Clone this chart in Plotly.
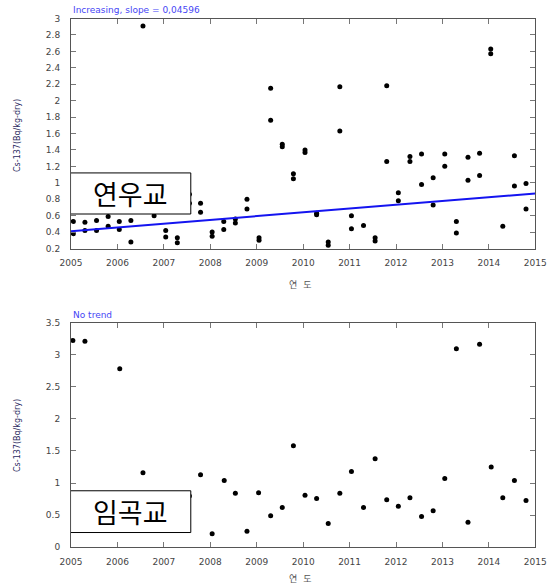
import plotly.graph_objects as go

# ---- data: 연우교 (top) ----
top_year = [2005.05, 2005.05, 2005.30, 2005.30, 2005.55, 2005.55, 2005.80, 2005.80,
            2006.04, 2006.04, 2006.29, 2006.29, 2006.55, 2006.79,
            2007.04, 2007.04, 2007.29, 2007.29, 2007.55, 2007.55, 2007.79, 2007.79,
            2008.04, 2008.04, 2008.29, 2008.29, 2008.54, 2008.54, 2008.79, 2008.79,
            2009.05, 2009.05, 2009.30, 2009.30, 2009.55, 2009.55, 2009.79, 2009.79,
            2010.04, 2010.04, 2010.29, 2010.29, 2010.54, 2010.54, 2010.79, 2010.79,
            2011.04, 2011.04, 2011.30, 2011.55, 2011.55, 2011.80, 2011.80,
            2012.05, 2012.05, 2012.30, 2012.30, 2012.55, 2012.55, 2012.80, 2012.80,
            2013.05, 2013.05, 2013.30, 2013.30, 2013.55, 2013.55, 2013.80, 2013.80,
            2014.04, 2014.04, 2014.30, 2014.55, 2014.55, 2014.80, 2014.80]
top_val = [0.53, 0.38, 0.52, 0.42, 0.54, 0.42, 0.59, 0.47,
           0.53, 0.43, 0.54, 0.28, 2.91, 0.60,
           0.42, 0.34, 0.33, 0.27, 0.86, 0.75, 0.75, 0.64,
           0.40, 0.35, 0.53, 0.43, 0.56, 0.51, 0.80, 0.68,
           0.33, 0.30, 2.15, 1.76, 1.47, 1.44, 1.11, 1.05,
           1.40, 1.37, 0.63, 0.61, 0.28, 0.24, 2.17, 1.63,
           0.60, 0.44, 0.48, 0.33, 0.29, 2.18, 1.26,
           0.88, 0.78, 1.32, 1.26, 1.35, 0.98, 1.06, 0.73,
           1.35, 1.20, 0.53, 0.39, 1.31, 1.03, 1.36, 1.09,
           2.63, 2.57, 0.47, 1.33, 0.96, 0.99, 0.68]
trend_start_year = 2005
trend_end_year = 2015
trend_intercept = 0.41
trend_slope = 0.04596

# ---- data: 임곡교 (bottom) ----
bot_year = [2005.04, 2005.30, 2006.05, 2006.55, 2007.55, 2007.79, 2008.04, 2008.30,
            2008.54, 2008.79, 2009.04, 2009.30, 2009.55, 2009.79, 2010.04, 2010.29,
            2010.54, 2010.79, 2011.04, 2011.30, 2011.55, 2011.80, 2012.05, 2012.30,
            2012.55, 2012.80, 2013.05, 2013.30, 2013.55, 2013.80, 2014.05, 2014.30,
            2014.55, 2014.80]
bot_val = [3.22, 3.21, 2.78, 1.16, 0.80, 1.13, 0.21, 1.04,
           0.84, 0.25, 0.85, 0.49, 0.62, 1.58, 0.81, 0.76,
           0.37, 0.84, 1.18, 0.62, 1.38, 0.74, 0.64, 0.77,
           0.48, 0.57, 1.07, 3.09, 0.39, 3.16, 1.25, 0.77,
           1.04, 0.73]

year_ticks = [2005, 2006, 2007, 2008, 2009, 2010, 2011, 2012, 2013, 2014, 2015]
top_yticks = [0.2, 0.4, 0.6, 0.8, 1, 1.2, 1.4, 1.6, 1.8, 2, 2.2, 2.4, 2.6, 2.8, 3]
bot_yticks = [0, 0.5, 1, 1.5, 2, 2.5, 3, 3.5]

top_title = "Increasing, slope = 0,04596"
bot_title = "No trend"
top_site = "연우교"
bot_site = "임곡교"
y_label = "Cs-137(Bq/kg-dry)"
x_label = "연 도"

W, H = 555, 586
FONT = "DejaVu Sans"
TICKC = "#444444"

fig = go.Figure()
fig.add_trace(go.Scatter(x=top_year, y=top_val, mode="markers",
                         marker=dict(color="black", size=5), xaxis="x", yaxis="y",
                         showlegend=False))
trend_x = [trend_start_year, trend_end_year]
trend_y = [trend_intercept + trend_slope * (v - trend_start_year) for v in trend_x]
fig.add_trace(go.Scatter(x=trend_x, y=trend_y, mode="lines",
                         line=dict(color="#1414f0", width=2), xaxis="x", yaxis="y",
                         showlegend=False))
fig.add_trace(go.Scatter(x=bot_year, y=bot_val, mode="markers",
                         marker=dict(color="black", size=5), xaxis="x2", yaxis="y2",
                         showlegend=False))

def px_x(p):
    return p / W

def px_y(p):
    return 1 - p / H

common_x = dict(range=[2005, 2015], tickvals=year_ticks, ticktext=[str(t) for t in year_ticks],
                ticks="inside", ticklen=5, tickcolor="#777777", showline=True,
                linecolor="#555555", linewidth=1, mirror="ticks", showgrid=False,
                zeroline=False, tickfont=dict(family=FONT, size=9, color=TICKC),
                ticklabelstandoff=6, automargin=False)
common_y = dict(ticks="inside", ticklen=5, tickcolor="#777777", showline=True,
                linecolor="#555555", linewidth=1, mirror="ticks", showgrid=False,
                zeroline=False, tickfont=dict(family=FONT, size=9, color=TICKC),
                ticklabelstandoff=8, automargin=False)

dom_x = [px_x(71), px_x(535.3)]
fig.update_layout(
    template="none",
    width=W, height=H, margin=dict(l=0, r=0, t=0, b=0, autoexpand=False),
    paper_bgcolor="white", plot_bgcolor="white",
    xaxis=dict(domain=dom_x, anchor="y", **common_x),
    yaxis=dict(domain=[px_y(248.5), px_y(18.5)], anchor="x", range=[0.2, 3],
               tickvals=top_yticks, ticktext=[f"{v:g}" for v in top_yticks], **common_y),
    xaxis2=dict(domain=dom_x, anchor="y2", **common_x),
    yaxis2=dict(domain=[px_y(547.3), px_y(322.5)], anchor="x2", range=[0, 3.5],
                tickvals=bot_yticks, ticktext=[f"{v:g}" for v in bot_yticks], **common_y),
)

# site label boxes (cover the data beneath, as in the original)
fig.add_shape(type="rect", xref="x", yref="y", x0=2004.99, x1=2007.58, y0=0.62, y1=1.12,
              line=dict(color="black", width=1), fillcolor="white", layer="above")
fig.add_shape(type="rect", xref="x2", yref="y2", x0=2004.99, x1=2007.58, y0=0.23, y1=0.88,
              line=dict(color="black", width=1), fillcolor="white", layer="above")

ann = []
ann.append(dict(text=top_site, xref="x", yref="y", x=2006.285, y=0.87, showarrow=False,
                font=dict(family="Noto Sans CJK KR", size=27, color="black")))
ann.append(dict(text=bot_site, xref="x2", yref="y2", x=2006.285, y=0.555, showarrow=False,
                font=dict(family="Noto Sans CJK KR", size=27, color="black")))
ann.append(dict(text=top_title, xref="paper", yref="paper", x=px_x(71), y=px_y(10),
                xanchor="left", yanchor="middle", showarrow=False,
                font=dict(family=FONT, size=9, color="#4646f5")))
ann.append(dict(text=bot_title, xref="paper", yref="paper", x=px_x(71), y=px_y(315),
                xanchor="left", yanchor="middle", showarrow=False,
                font=dict(family=FONT, size=9, color="#4646f5")))
for cy in (136, 436):
    ann.append(dict(text=y_label, xref="paper", yref="paper", x=px_x(17), y=px_y(cy),
                    textangle=-90, xanchor="center", yanchor="middle", showarrow=False,
                    font=dict(family=FONT, size=8, color="#2a2a60")))
x_label_disp = x_label.replace(" ", "&nbsp;&nbsp;&nbsp;")
for cy in (284, 578):
    ann.append(dict(text=x_label_disp, xref="paper", yref="paper", x=px_x(300), y=px_y(cy),
                    xanchor="center", yanchor="middle", showarrow=False,
                    font=dict(family="Noto Sans CJK KR", size=9, color="#555555")))
fig.update_layout(annotations=ann)

# remove the browser's default 8px body margin so the figure sits at (0, 0)
fig.write_html("out.html",
               config={"displayModeBar": False, "staticPlot": True},
               post_script="document.body.style.margin='0';document.body.style.overflow='hidden';")
